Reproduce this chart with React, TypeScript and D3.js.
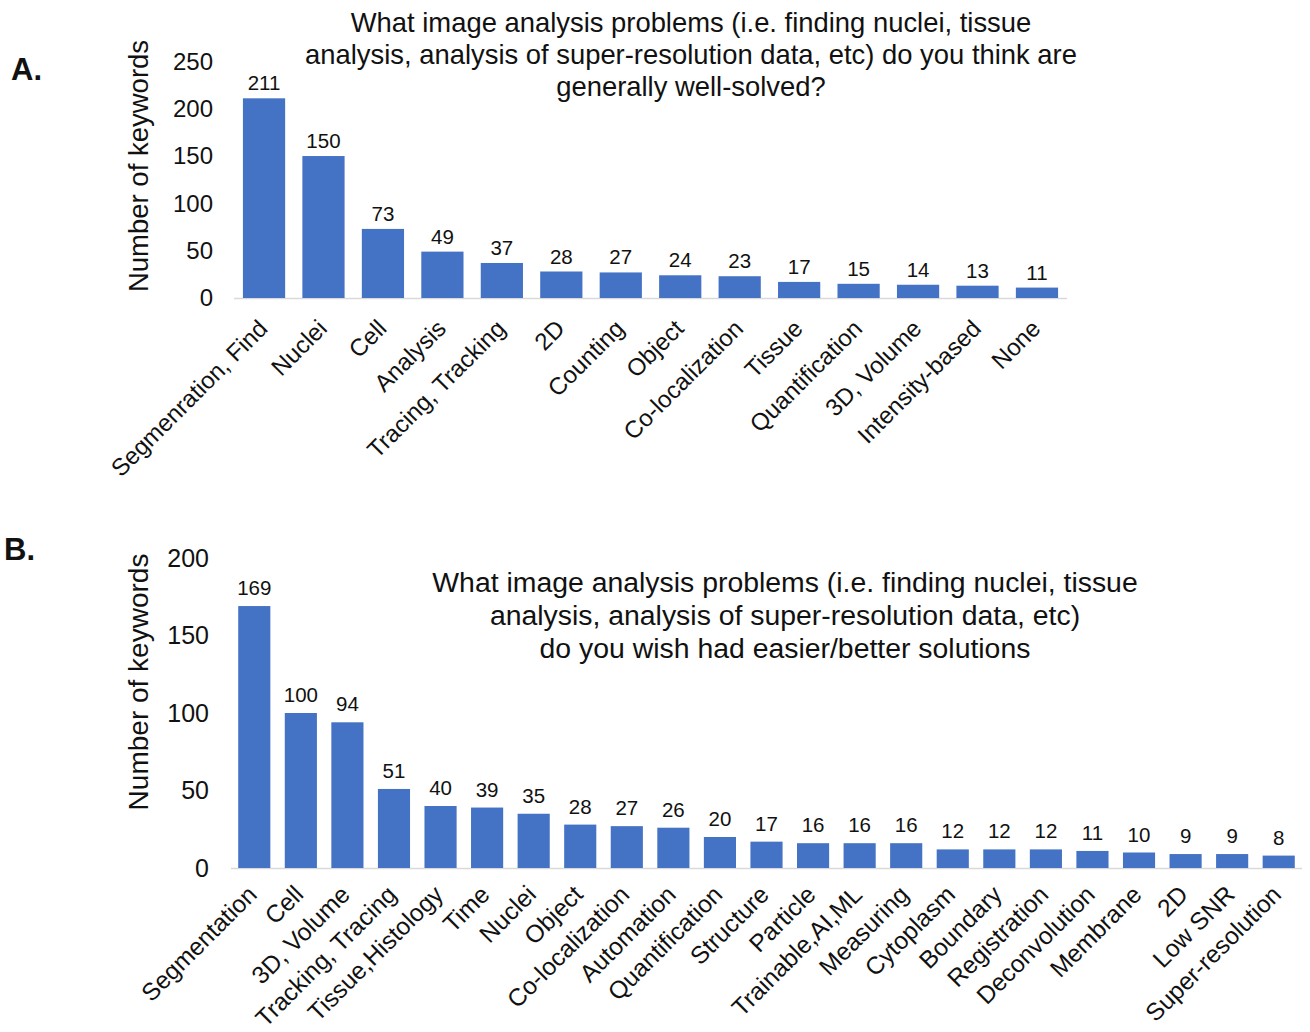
import React from "react";
import * as d3 from "d3";

const catsA = ["Segmenration, Find", "Nuclei", "Cell", "Analysis", "Tracing, Tracking", "2D", "Counting", "Object", "Co-localization", "Tissue", "Quantification", "3D, Volume", "Intensity-based", "None"];
const valsA = [211, 150, 73, 49, 37, 28, 27, 24, 23, 17, 15, 14, 13, 11];
const ticksA = [0, 50, 100, 150, 200, 250];
const titleA = [
  "What image analysis problems (i.e. finding nuclei, tissue",
  "analysis, analysis of super-resolution data, etc) do you think are",
  "generally well-solved?",
];

const catsB = ["Segmentation", "Cell", "3D, Volume", "Tracking, Tracing", "Tissue,Histology", "Time", "Nuclei", "Object", "Co-localization", "Automation", "Quantification", "Structure", "Particle", "Trainable,AI,ML", "Measuring", "Cytoplasm", "Boundary", "Registration", "Deconvolution", "Membrane", "2D", "Low SNR", "Super-resolution"];
const valsB = [169, 100, 94, 51, 40, 39, 35, 28, 27, 26, 20, 17, 16, 16, 16, 12, 12, 12, 11, 10, 9, 9, 8];
const ticksB = [0, 50, 100, 150, 200];
const titleB = [
  "What image analysis problems (i.e. finding nuclei, tissue",
  "analysis, analysis of super-resolution data, etc)",
  "do you wish had easier/better solutions",
];

const FONT = "'Liberation Sans', Arial, Helvetica, sans-serif";
const BAR = "#4472C4";
const TXT = "#111";

function Panel({ cats, vals, ticks, title, xRange, yDomainMax, yRange, tickX, tickSize, valSize, valGap, catSize, titleX, titleY, titleGap, titleSize, yLabelX, yLabelY, yLabelSize, letter, letterX, letterY, padIn, padOut, catDx, catDy }: any) {
  const x = d3.scaleBand<string>().domain(cats).range(xRange).paddingInner(padIn).paddingOuter(padOut);
  const y = d3.scaleLinear().domain([0, yDomainMax]).range(yRange);
  const base = y(0);
  return (
    <g>
      <text x={letterX} y={letterY} fontSize={31} fontWeight="bold" fill={TXT}>{letter}</text>
      {title.map((t: string, i: number) => (
        <text key={i} x={titleX} y={titleY + i * titleGap} fontSize={titleSize} textAnchor="middle" fill={TXT}>{t}</text>
      ))}
      <text transform={`translate(${yLabelX},${yLabelY}) rotate(-90)`} fontSize={yLabelSize} textAnchor="middle" fill={TXT}>Number of keywords</text>
      {ticks.map((t: number) => (
        <text key={t} x={tickX} y={y(t)} dy="0.35em" fontSize={tickSize} textAnchor="end" fill={TXT}>{t}</text>
      ))}
      <line x1={xRange[0]} x2={xRange[1]} y1={base + 0.5} y2={base + 0.5} stroke="#d9d9d9" strokeWidth={1.5} />
      {cats.map((c: string, i: number) => (
        <rect key={c} x={x(c)} y={y(vals[i])} width={x.bandwidth()} height={base - y(vals[i])} fill={BAR} />
      ))}
      {cats.map((c: string, i: number) => (
        <text key={c} x={(x(c) as number) + x.bandwidth() / 2} y={y(vals[i]) - valGap} fontSize={valSize} textAnchor="middle" fill={TXT}>{vals[i]}</text>
      ))}
      {cats.map((c: string) => {
        const cx = (x(c) as number) + x.bandwidth() / 2 + catDx;
        const cy = base + catDy;
        return (
          <text key={c} transform={`translate(${cx},${cy}) rotate(-45)`} fontSize={catSize} textAnchor="end" fill={TXT}>{c}</text>
        );
      })}
    </g>
  );
}

export default function App() {
  return (
    <svg width={1310} height={1032} style={{ display: "block", position: "absolute", left: 0, top: 0, background: "#fff" }} fontFamily={FONT}>
      <rect width={1310} height={1032} fill="#fff" />
      <Panel cats={catsA} vals={valsA} ticks={ticksA} title={titleA}
        xRange={[234, 1067]} yDomainMax={250} yRange={[298, 61.4]}
        tickX={213} tickSize={24} valSize={20.5} valGap={8} catSize={24}
        titleX={691} titleY={32} titleGap={32} titleSize={27.4}
        yLabelX={148} yLabelY={166} yLabelSize={27.5} letter="A." letterX={11} letterY={80}
        padIn={0.29} padOut={0.15} catDx={5} catDy={32} />
      <Panel cats={catsB} vals={valsB} ticks={ticksB} title={titleB}
        xRange={[231, 1302]} yDomainMax={200} yRange={[868, 558]}
        tickX={209} tickSize={25} valSize={20.5} valGap={11} catSize={24.5}
        titleX={785} titleY={592} titleGap={33} titleSize={28.4}
        yLabelX={148} yLabelY={682} yLabelSize={28} letter="B." letterX={4} letterY={560}
        padIn={0.31} padOut={0.155} catDx={4} catDy={28} />
    </svg>
  );
}
